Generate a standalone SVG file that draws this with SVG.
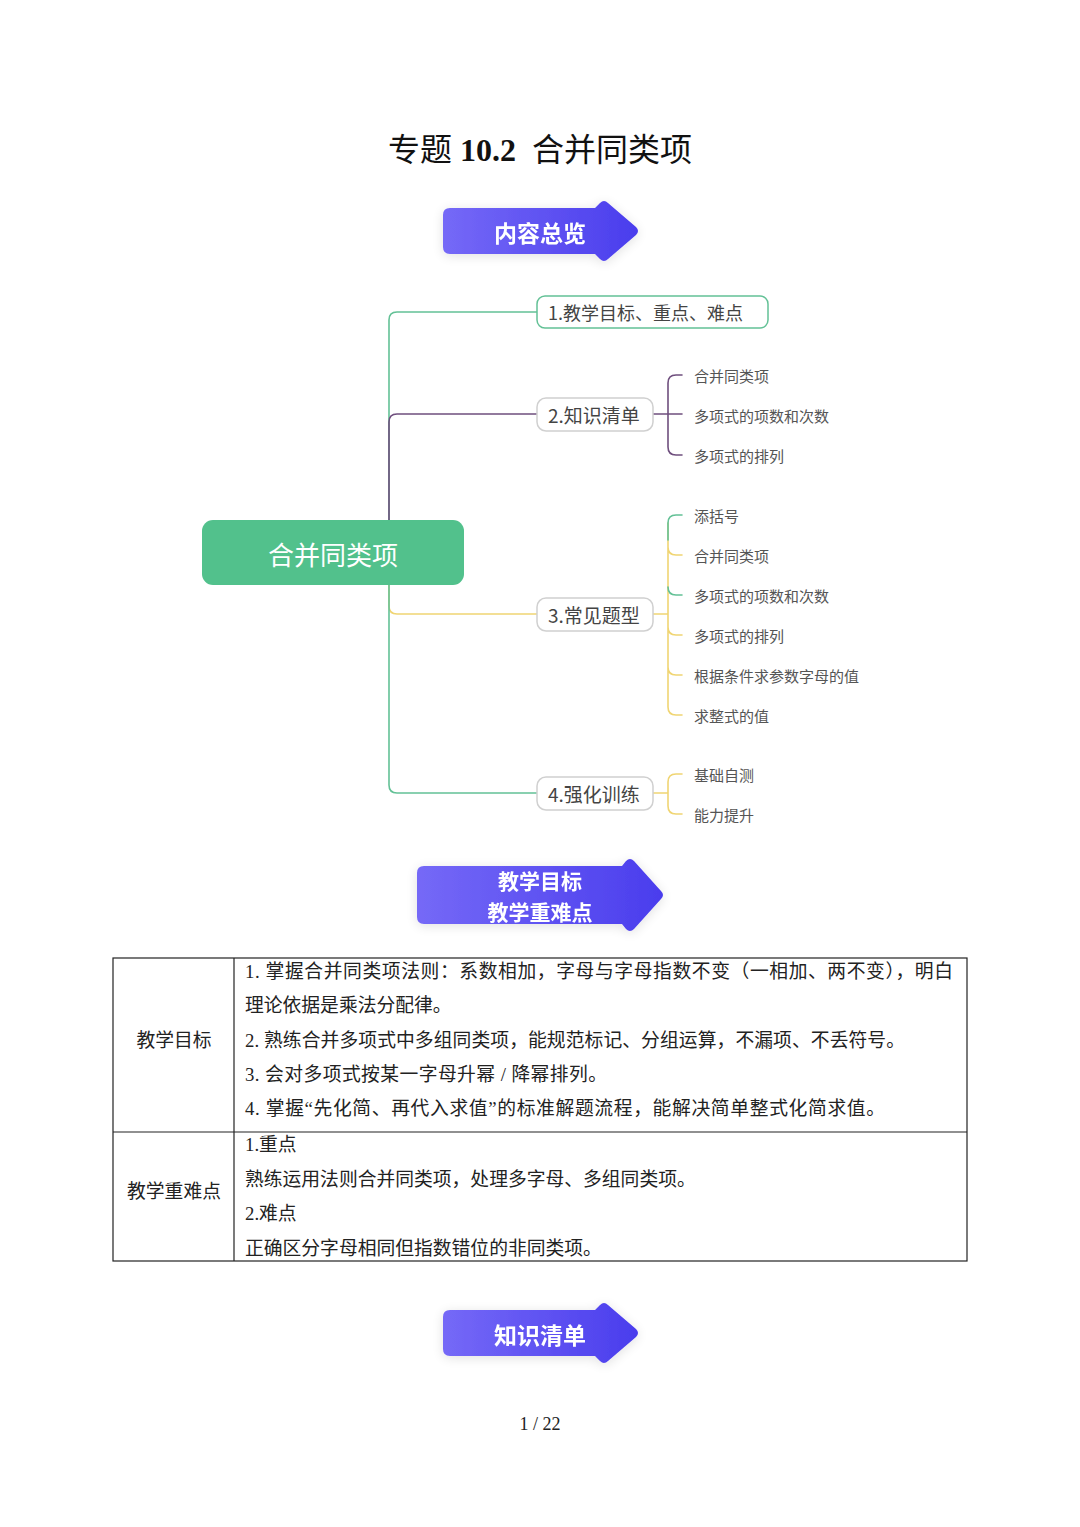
<svg xmlns="http://www.w3.org/2000/svg" width="1080" height="1527" viewBox="0 0 1080 1527">
<style>
.title{font-family:"Liberation Serif","Noto Sans CJK SC",serif;font-size:32px;fill:#111}
.ban{font-family:"Noto Sans CJK SC",sans-serif;font-weight:bold;font-size:23px;fill:#fff}
.mm{font-family:"Noto Sans CJK SC",sans-serif;fill:#444}
.box{fill:#fff;stroke:#d0d0d0;stroke-width:1.5}
.leaf{font-size:15px;fill:#555}
.tb{font-family:"Liberation Serif","Noto Sans CJK SC",serif;font-size:18.8px;fill:#222}
.ln{fill:none;stroke-width:1.6;stroke-linecap:round}
.g{stroke:#63c196}.p{stroke:#6f4f7e}.y{stroke:#f0d573}
</style>
<defs>
<linearGradient id="bg" x1="0" y1="0" x2="1" y2="0">
<stop offset="0" stop-color="#7569f7"/><stop offset="1" stop-color="#4a3ded"/>
</linearGradient>
<filter id="sh" x="-20%" y="-40%" width="140%" height="180%">
<feGaussianBlur in="SourceAlpha" stdDeviation="6"/>
<feOffset dy="2"/>
<feComponentTransfer><feFuncA type="linear" slope="0.12"/></feComponentTransfer>
<feMerge><feMergeNode/><feMergeNode in="SourceGraphic"/></feMerge>
</filter>
</defs>
<rect width="1080" height="1527" fill="#fff"/>

<g id="title">
<text class="title" x="540" y="161" text-anchor="middle" xml:space="preserve">专题 <tspan font-weight="bold">10.2</tspan>  合并同类项</text>
</g>

<g id="banner1" filter="url(#sh)">
<path d="M450,208 H595 L600,203 Q604,199 608,203 L636,227 Q640,231 636,235 L608,259 Q604,263 600,259 L595,254 H450 Q443,254 443,247 V215 Q443,208 450,208 Z" fill="url(#bg)"/>
<text class="ban" x="540" y="232" text-anchor="middle" dominant-baseline="central">内容总览</text>
</g>

<g id="connectors">
<path class="ln g" d="M389,520 V320 Q389,312 397,312 H537"/>
<path class="ln p" d="M389,520 V422 Q389,414 397,414 H537"/>
<path class="ln y" d="M389,585 V606 Q389,614 397,614 H537"/>
<path class="ln g" d="M389,585 V785 Q389,793 397,793 H537"/>
<path class="ln p" d="M653,414 H682 M682,375 H676 Q668,375 668,383 V447 Q668,455 676,455 H682"/>
<path class="ln y" d="M653,614 H668 M668,523 V707 Q668,715 676,715 H682 M668,547 Q668,555 676,555 H682 M668,627 Q668,635 676,635 H682 M668,667 Q668,675 676,675 H682"/>
<path class="ln g" d="M668,540 V523 Q668,515 676,515 H682 M668,587 Q668,595 676,595 H682"/>
<path class="ln y" d="M653,793 H668 M682,774 H676 Q668,774 668,782 V806 Q668,814 676,814 H682"/>
</g>

<g id="root">
<rect x="202" y="520" width="262" height="65" rx="11" fill="#52c18c"/>
<text class="mm" x="333" y="553" text-anchor="middle" dominant-baseline="central" font-size="26" style="fill:#fff">合并同类项</text>
</g>

<g id="n1">
<rect class="box" x="537" y="296" width="231" height="32" rx="8" style="stroke:#63c196"/>
<text class="mm" x="548" y="312" dominant-baseline="central" font-size="18">1.教学目标、重点、难点</text>
</g>
<g id="n2">
<rect class="box" x="537" y="398" width="116" height="33" rx="9"/>
<text class="mm" x="548" y="414" dominant-baseline="central" font-size="19">2.知识清单</text>
</g>
<g id="n3">
<rect class="box" x="537" y="598" width="116" height="33" rx="9"/>
<text class="mm" x="548" y="614" dominant-baseline="central" font-size="19">3.常见题型</text>
</g>
<g id="n4">
<rect class="box" x="537" y="777" width="116" height="33" rx="9"/>
<text class="mm" x="548" y="793" dominant-baseline="central" font-size="19">4.强化训练</text>
</g>

<g id="leaves2" class="mm leaf">
<text x="694" y="375" dominant-baseline="central">合并同类项</text>
<text x="694" y="415" dominant-baseline="central">多项式的项数和次数</text>
<text x="694" y="455" dominant-baseline="central">多项式的排列</text>
</g>
<g id="leaves3" class="mm leaf">
<text x="694" y="515" dominant-baseline="central">添括号</text>
<text x="694" y="555" dominant-baseline="central">合并同类项</text>
<text x="694" y="595" dominant-baseline="central">多项式的项数和次数</text>
<text x="694" y="635" dominant-baseline="central">多项式的排列</text>
<text x="694" y="675" dominant-baseline="central">根据条件求参数字母的值</text>
<text x="694" y="715" dominant-baseline="central">求整式的值</text>
</g>
<g id="leaves4" class="mm leaf">
<text x="694" y="774" dominant-baseline="central">基础自测</text>
<text x="694" y="814" dominant-baseline="central">能力提升</text>
</g>

<g id="banner2" filter="url(#sh)">
<path d="M424,866 H622 L626,861 Q630,857 634,861 L661,891 Q665,895 661,899 L634,929 Q630,933 626,929 L622,924 H424 Q417,924 417,917 V873 Q417,866 424,866 Z" fill="url(#bg)"/>
<text class="ban" x="540" y="880" text-anchor="middle" dominant-baseline="central" style="font-size:21px">教学目标</text>
<text class="ban" x="540" y="911" text-anchor="middle" dominant-baseline="central" style="font-size:21px">教学重难点</text>
</g>

<g id="table">
<rect x="113" y="958" width="854" height="303" fill="none" stroke="#222" stroke-width="1.2"/>
<line x1="234" y1="958" x2="234" y2="1261" stroke="#222" stroke-width="1.2"/>
<line x1="113" y1="1132" x2="967" y2="1132" stroke="#222" stroke-width="1.2"/>
<text class="tb" x="174" y="1040" text-anchor="middle" dominant-baseline="central">教学目标</text>
<text class="tb" x="174" y="1191" text-anchor="middle" dominant-baseline="central">教学重难点</text>
<text class="tb" x="245" y="971" dominant-baseline="central" textLength="708" lengthAdjust="spacing">1. 掌握合并同类项法则：系数相加，字母与字母指数不变（一相加、两不变），明白</text>
<text class="tb" x="245" y="1005" dominant-baseline="central">理论依据是乘法分配律。</text>
<text class="tb" x="245" y="1040" dominant-baseline="central" textLength="660" lengthAdjust="spacing">2. 熟练合并多项式中多组同类项，能规范标记、分组运算，不漏项、不丢符号。</text>
<text class="tb" x="245" y="1074" dominant-baseline="central" textLength="362" lengthAdjust="spacing">3. 会对多项式按某一字母升幂 / 降幂排列。</text>
<text class="tb" x="245" y="1108" dominant-baseline="central" textLength="640" lengthAdjust="spacing">4. 掌握“先化简、再代入求值”的标准解题流程，能解决简单整式化简求值。</text>
<text class="tb" x="245" y="1144" dominant-baseline="central">1.重点</text>
<text class="tb" x="245" y="1179" dominant-baseline="central">熟练运用法则合并同类项，处理多字母、多组同类项。</text>
<text class="tb" x="245" y="1213" dominant-baseline="central">2.难点</text>
<text class="tb" x="245" y="1248" dominant-baseline="central">正确区分字母相同但指数错位的非同类项。</text>
</g>

<g id="banner3" filter="url(#sh)">
<path d="M450,1310 H595 L600,1305 Q604,1301 608,1305 L636,1329 Q640,1333 636,1337 L608,1361 Q604,1365 600,1361 L595,1356 H450 Q443,1356 443,1349 V1317 Q443,1310 450,1310 Z" fill="url(#bg)"/>
<text class="ban" x="540" y="1334" text-anchor="middle" dominant-baseline="central">知识清单</text>
</g>

<g id="footer">
<text x="540" y="1430" text-anchor="middle" font-family="Liberation Serif, serif" font-size="18" fill="#222">1 / 22</text>
</g>
</svg>
